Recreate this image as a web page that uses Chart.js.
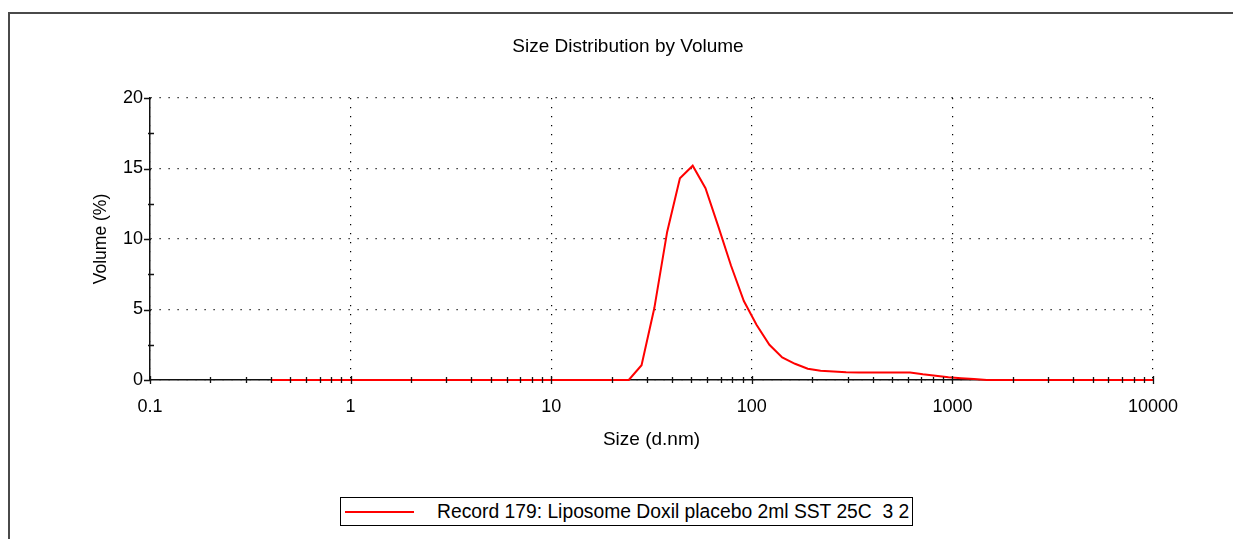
<!DOCTYPE html>
<html>
<head>
<meta charset="utf-8">
<script src="https://cdn.jsdelivr.net/npm/chart.js@4/dist/chart.umd.min.js"></script>
<style>
  html, body { margin: 0; padding: 0; background: #fff; overflow: hidden; width: 1233px; height: 539px; }
  #wrap { position: relative; width: 1233px; height: 539px; }
  #frame { position: absolute; left: 8px; top: 12px; width: 1400px; height: 700px;
           border-left: 2px solid #4a4a4a; border-top: 2px solid #4a4a4a; box-sizing: border-box; }
  canvas { position: absolute; left: 0; top: 0; }
  #title { position: absolute; left: 428px; width: 400px; top: 35px; line-height: 19px;
           text-align: center; font: 19px "Liberation Sans", Arial, sans-serif; color: #000; }
  #legend { position: absolute; left: 340px; top: 497px; width: 573px; height: 29px;
            border: 1px solid #000; box-sizing: border-box; background: #fff;
            font: 19.3px "Liberation Sans", Arial, sans-serif; color: #000; }
  #legend .swatch { position: absolute; left: 4px; top: 13px; width: 69px; height: 2px;
                    background: #ff0000; }
  #legend .txt { position: absolute; left: 96px; top: 4px; line-height: 19px; white-space: pre; }
</style>
</head>
<body>
<div id="wrap">
  <div id="frame"></div>
  <canvas id="c" width="1233" height="539"></canvas>
  <div id="title"></div>
  <div id="legend"><div class="swatch"></div><div class="txt"></div></div>
</div>
<script>
// ---- data ----
const chartTitle = "Size Distribution by Volume";
const xAxisTitle = "Size (d.nm)";
const yAxisTitle = "Volume (%)";
const seriesLabel = "Record 179: Liposome Doxil placebo 2ml SST 25C  3 2";

const sizes = [0.4, 0.4632, 0.5365, 0.6213, 0.7195, 0.8332, 0.9649, 1.117, 1.294, 1.499,
  1.736, 2.010, 2.328, 2.696, 3.122, 3.615, 4.187, 4.849, 5.615, 6.503,
  7.531, 8.721, 10.10, 11.70, 13.54, 15.69, 18.17, 21.04, 24.36, 28.21,
  32.67, 37.84, 43.82, 50.75, 58.77, 68.06, 78.82, 91.28, 105.7, 122.4,
  141.8, 164.2, 190.1, 220.2, 255.0, 295.3, 342.0, 396.1, 458.7, 531.2,
  615.1, 712.4, 825.0, 955.4, 1106, 1281, 1484, 1718, 1990, 2305,
  2669, 3091, 3580, 4145, 4801, 5560, 6439, 7456, 8635, 10000];

const volumes = [0, 0, 0, 0, 0, 0, 0, 0, 0, 0,
  0, 0, 0, 0, 0, 0, 0, 0, 0, 0,
  0, 0, 0, 0, 0, 0, 0, 0, 0, 1.05,
  5.1, 10.5, 14.3, 15.2, 13.6, 10.9, 8.1, 5.6, 3.9, 2.5,
  1.6, 1.15, 0.8, 0.65, 0.6, 0.55, 0.54, 0.54, 0.54, 0.54,
  0.53, 0.4, 0.3, 0.2, 0.13, 0.07, 0, 0, 0, 0,
  0, 0, 0, 0, 0, 0, 0, 0, 0, 0];

const xMajorTicks = [0.1, 1, 10, 100, 1000, 10000];
const xTickLabels = ["0.1", "1", "10", "100", "1000", "10000"];
const yMajorTicks = [0, 5, 10, 15, 20];
const yMinorTicks = [2.5, 7.5, 12.5, 17.5];
const xMinorMultipliers = [2, 3, 4, 5, 6, 7, 8, 9];

// ---- text ----
document.getElementById('title').textContent = chartTitle;
document.querySelector('#legend .txt').textContent = seriesLabel;

const FONT = '"Liberation Sans", Arial, sans-serif';

const tickMarks = {
  id: 'tickMarks',
  afterDatasetsDraw(chart) {
    const ctx = chart.ctx;
    const xs = chart.scales.x, ys = chart.scales.y;
    const area = chart.chartArea;
    ctx.save();
    ctx.strokeStyle = '#111';
    ctx.lineWidth = 1.3;
    ctx.beginPath();
    const b = Math.round(area.bottom);
    for (let d = 0; d < xMajorTicks.length - 1; d++) {
      for (const m of xMinorMultipliers) {
        const px = Math.round(xs.getPixelForValue(xMajorTicks[d] * m)) + 0.5;
        ctx.moveTo(px, b - 3); ctx.lineTo(px, b + 3);
      }
    }
    for (const v of xMajorTicks) {
      const px = Math.round(xs.getPixelForValue(v)) + 0.5;
      ctx.moveTo(px, b - 4); ctx.lineTo(px, b + 4);
    }
    const l = Math.round(area.left);
    for (const v of yMajorTicks) {
      const py = Math.round(ys.getPixelForValue(v)) + 0.5;
      ctx.moveTo(l - 6, py); ctx.lineTo(l + 1, py);
    }
    for (const v of yMinorTicks) {
      const py = Math.round(ys.getPixelForValue(v)) + 0.5;
      ctx.moveTo(l - 2, py); ctx.lineTo(l + 4, py);
    }
    ctx.stroke();
    ctx.restore();
  }
};

new Chart(document.getElementById('c'), {
  type: 'line',
  data: {
    datasets: [{
      label: seriesLabel,
      data: sizes.map((s, i) => ({ x: s, y: volumes[i] })),
      borderColor: '#ff0000',
      borderWidth: 2,
      pointRadius: 0,
      tension: 0,
      fill: false,
      clip: false
    }]
  },
  options: {
    responsive: false,
    animation: false,
    devicePixelRatio: 1,
    layout: { padding: { left: 0, top: 98, right: 80, bottom: 0 } },
    plugins: { legend: { display: false }, title: { display: false }, tooltip: { enabled: false } },
    scales: {
      x: {
        type: 'logarithmic',
        min: 0.1, max: 10000,
        afterFit(scale) { scale.height = 159; },
        afterBuildTicks(scale) { scale.ticks = xMajorTicks.map(v => ({ value: v })); },
        ticks: {
          autoSkip: false, maxRotation: 0, padding: 16, color: '#000',
          font: { family: FONT, size: 18 },
          callback(value) { const i = xMajorTicks.indexOf(value); return i >= 0 ? xTickLabels[i] : ''; }
        },
        grid: { display: true, drawTicks: false, color: '#000', lineWidth: 1.2 },
        border: { display: true, color: '#111', width: 1.5, dash: [1.2, 7.8] },
        title: { display: true, text: xAxisTitle, color: '#000',
                 font: { family: FONT, size: 19 }, padding: { top: 0, bottom: 88 } }
      },
      y: {
        type: 'linear',
        min: 0, max: 20,
        afterFit(scale) { scale.width = 150; },
        afterBuildTicks(scale) { scale.ticks = yMajorTicks.map(v => ({ value: v })); },
        ticks: { padding: 7, color: '#000', font: { family: FONT, size: 18 } },
        grid: { display: true, drawTicks: false, color: '#000', lineWidth: 1.2 },
        border: { display: true, color: '#111', width: 1.5, dash: [1.2, 7.8] },
        title: { display: true, text: yAxisTitle, color: '#000',
                 font: { family: FONT, size: 17.5 }, padding: { top: 91, bottom: 0 } }
      }
    }
  },
  plugins: [tickMarks]
});
</script>
</body>
</html>
